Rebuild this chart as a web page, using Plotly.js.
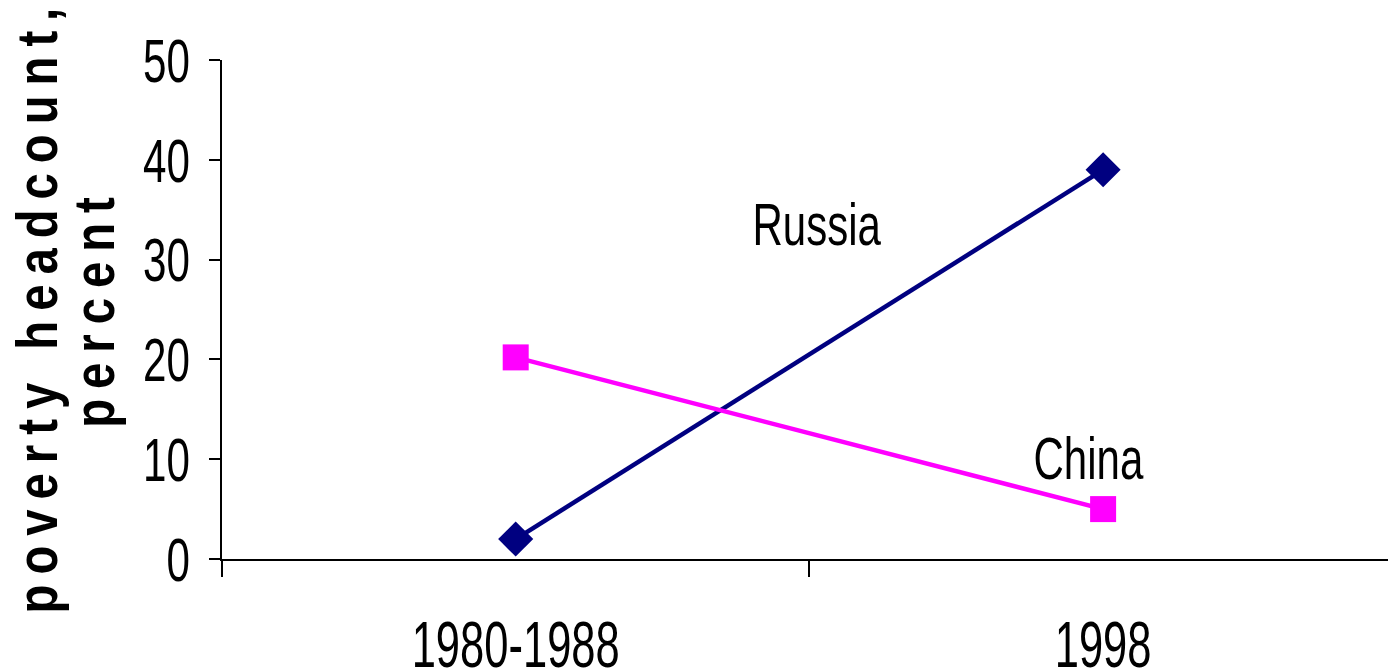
<!DOCTYPE html>
<html>
<head>
<meta charset="utf-8">
<script src="https://cdn.plot.ly/plotly-3.0.1.min.js"></script>
<style>
  body { margin: 0; background: #fff; }
  #grafica { width: 1388px; height: 669px; }
  .annotation[data-index="2"] text, .annotation[data-index="3"] text { letter-spacing: 12px; }
</style>
</head>
<body>
<div id="grafica"></div>
<script>
// datos
let periodos = ['1980-1988', '1998'];
let rusia = [2, 39];
let china = [20.2, 5];
let etiquetas = ['Russia', 'China'];
let tituloY = ['poverty headcount,', 'percent'];

let fuente = '"Liberation Sans", Arial, sans-serif';

const trazaRusia = {
    x: periodos,
    y: rusia,
    type: 'scatter',
    mode: 'lines+markers',
    name: etiquetas[0],
    line: { color: '#000080', width: 4.5 },
    marker: { symbol: 'diamond', size: 27, color: '#000080' }
};

const trazaChina = {
    x: periodos,
    y: china,
    type: 'scatter',
    mode: 'lines+markers',
    name: etiquetas[1],
    line: { color: '#ff00ff', width: 4.5 },
    marker: { symbol: 'square', size: 26, color: '#ff00ff' }
};

const fuenteTitulo = { family: fuente, size: 57, weight: 'bold', color: '#000' };

const layout = {
    width: 1388,
    height: 669,
    margin: { l: 222, r: 0, t: 60, b: 110 },
    showlegend: false,
    paper_bgcolor: '#ffffff',
    plot_bgcolor: '#ffffff',
    font: { family: fuente, color: '#000000' },
    xaxis: {
        type: 'category',
        range: [-0.5, 1.485],
        tickson: 'boundaries',
        ticks: 'outside',
        ticklen: 16,
        tickwidth: 1.5,
        tickcolor: '#000',
        showline: true,
        linecolor: '#000',
        linewidth: 1.5,
        showgrid: false,
        zeroline: false,
        ticklabelstandoff: 29,
        tickfont: { family: fuente, size: 64, color: '#000' }
    },
    yaxis: {
        range: [0, 50],
        tickvals: [0, 10, 20, 30, 40, 50],
        ticks: 'outside',
        ticklen: 11,
        tickwidth: 1.5,
        tickcolor: '#000',
        showline: true,
        linecolor: '#000',
        linewidth: 1.5,
        showgrid: false,
        zeroline: false,
        ticklabelstandoff: 7,
        tickfont: { family: fuente, size: 62, color: '#000' }
    },
    annotations: [
        { x: 1, y: rusia[1], xref: 'x', yref: 'y', text: etiquetas[0], showarrow: false,
          xshift: -286, yshift: -55, font: { family: fuente, size: 60, color: '#000' } },
        { x: 1, y: china[1], xref: 'x', yref: 'y', text: etiquetas[1], showarrow: false,
          xshift: -15, yshift: 51, font: { family: fuente, size: 60, color: '#000' } },
        // titulo del eje y, dos lineas giradas
        { x: 0, y: 25, xref: 'paper', yref: 'y', text: tituloY[0], showarrow: false, textangle: -90,
          xanchor: 'center', yanchor: 'middle', xshift: -186, yshift: 4, font: fuenteTitulo },
        { x: 0, y: 25, xref: 'paper', yref: 'y', text: tituloY[1], showarrow: false, textangle: -90,
          xanchor: 'center', yanchor: 'middle', xshift: -129, yshift: 2, font: fuenteTitulo }
    ]
};

// letra estrecha: se comprime el ancho del texto
function estrechar(selector, factor) {
    document.querySelectorAll(selector).forEach(t => {
        const w = t.getComputedTextLength();
        t.setAttribute('textLength', w * factor);
        t.setAttribute('lengthAdjust', 'spacingAndGlyphs');
    });
}

Plotly.newPlot('grafica', [trazaRusia, trazaChina], layout, { displayModeBar: false }).then(() => {
    estrechar('.xtick text, .ytick text', 0.68);
    estrechar('.annotation[data-index="0"] text, .annotation[data-index="1"] text', 0.7);
    estrechar('.annotation[data-index="2"] text, .annotation[data-index="3"] text', 0.83);
});
</script>
</body>
</html>
